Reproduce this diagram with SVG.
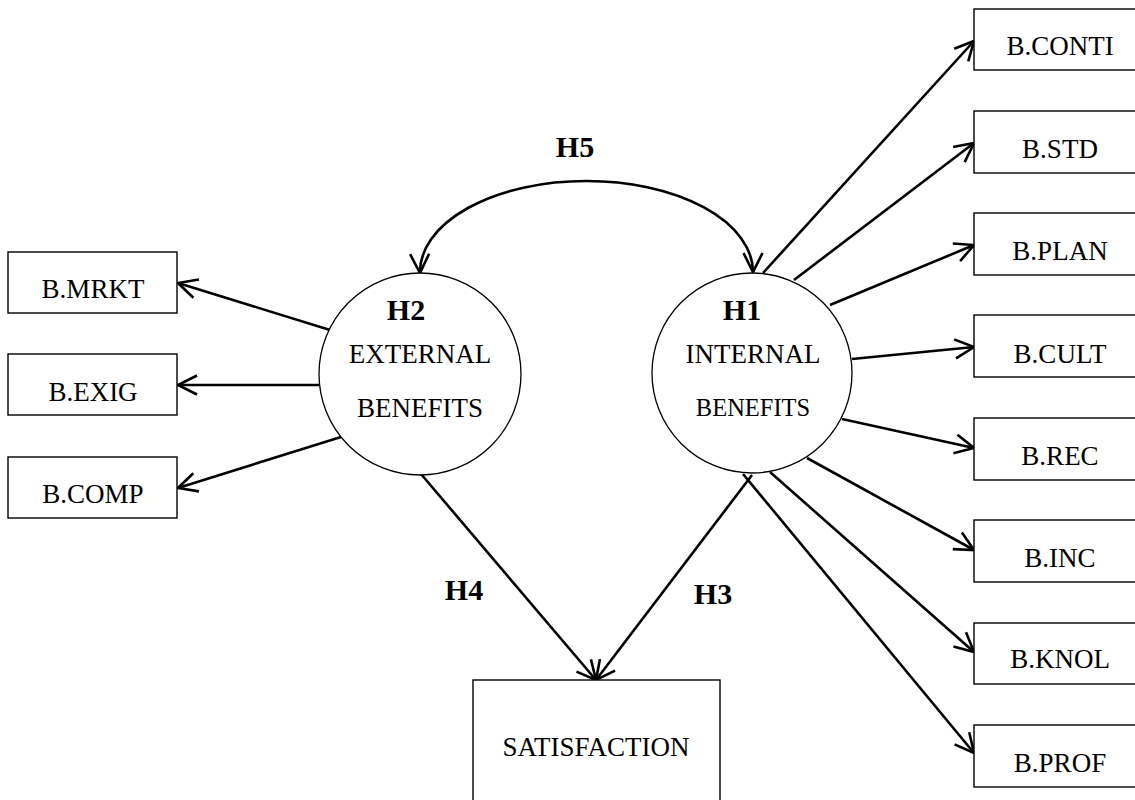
<svg xmlns="http://www.w3.org/2000/svg" width="1135" height="800" viewBox="0 0 1135 800">
<style>
.box{fill:#fff;stroke:#000;stroke-width:1.4}
.circ{fill:#fff;stroke:#000;stroke-width:1.3}
.lbl{font-family:"Liberation Serif",serif;font-size:27px;fill:#000;text-anchor:middle}
.h{font-family:"Liberation Serif",serif;font-size:30px;font-weight:bold;fill:#000;text-anchor:middle}
.con{fill:none;stroke:#000;stroke-width:2.6;marker-end:url(#arr)}
</style>
<defs>
<marker id="arr" markerUnits="userSpaceOnUse" markerWidth="26" markerHeight="26" refX="21" refY="11" orient="auto" overflow="visible">
<path d="M2,1.5 L21,11 L2,20.5" fill="none" stroke="#000" stroke-width="2.6"/>
</marker>
</defs>
<rect width="1135" height="800" fill="#fff"/>
<g id="connectors">
<path class="con" d="M330,330 L178,283"/>
<path class="con" d="M320,385 L178,385"/>
<path class="con" d="M341,437 L178,488"/>
<path class="con" d="M763,273 L974,41"/>
<path class="con" d="M794,280 L974,143"/>
<path class="con" d="M830,305 L974,245"/>
<path class="con" d="M852,359 L974,347"/>
<path class="con" d="M842,419 L974,448"/>
<path class="con" d="M807,458 L974,550"/>
<path class="con" d="M770,472 L974,652"/>
<path class="con" d="M743,474 L974,753"/>
<path class="con" d="M752,475 L596,680"/>
<path class="con" d="M421,474 L596,680"/>
<path class="con" d="M586,181 A166,91 0 0 0 420,273"/>
<path class="con" d="M586,181 A166,91 0 0 1 753,272"/>
</g>
<g id="n-external">
<circle class="circ" cx="420" cy="374" r="101"/>
<text class="h" x="406" y="320">H2</text>
<text class="lbl" x="420" y="363">EXTERNAL</text>
<text class="lbl" x="420" y="417">BENEFITS</text>
</g>
<g id="n-internal">
<circle class="circ" cx="752" cy="373" r="100"/>
<text class="h" x="742" y="320">H1</text>
<text class="lbl" x="753" y="363">INTERNAL</text>
<text class="lbl" x="753" y="416" style="font-size:24.5px">BENEFITS</text>
</g>
<g id="n-mrkt"><rect class="box" x="8" y="252" width="169" height="61"/><text class="lbl" x="93" y="298">B.MRKT</text></g>
<g id="n-exig"><rect class="box" x="8" y="354" width="169" height="61"/><text class="lbl" x="93" y="401">B.EXIG</text></g>
<g id="n-comp"><rect class="box" x="8" y="457" width="169" height="61"/><text class="lbl" x="93" y="503">B.COMP</text></g>
<g id="n-conti"><rect class="box" x="974" y="9" width="200" height="61"/><text class="lbl" x="1060" y="55">B.CONTI</text></g>
<g id="n-std"><rect class="box" x="974" y="111" width="200" height="62"/><text class="lbl" x="1060" y="158">B.STD</text></g>
<g id="n-plan"><rect class="box" x="974" y="213" width="200" height="62"/><text class="lbl" x="1060" y="260">B.PLAN</text></g>
<g id="n-cult"><rect class="box" x="974" y="315" width="200" height="62"/><text class="lbl" x="1060" y="363">B.CULT</text></g>
<g id="n-rec"><rect class="box" x="974" y="418" width="200" height="62"/><text class="lbl" x="1060" y="465">B.REC</text></g>
<g id="n-inc"><rect class="box" x="974" y="520" width="200" height="62"/><text class="lbl" x="1060" y="567">B.INC</text></g>
<g id="n-knol"><rect class="box" x="974" y="623" width="200" height="61"/><text class="lbl" x="1060" y="668">B.KNOL</text></g>
<g id="n-prof"><rect class="box" x="974" y="725" width="200" height="62"/><text class="lbl" x="1060" y="772">B.PROF</text></g>
<g id="n-satisfaction"><rect class="box" x="473" y="680" width="247" height="140"/><text class="lbl" x="596" y="756">SATISFACTION</text></g>
<g id="labels">
<text class="h" x="575" y="157">H5</text>
<text class="h" x="464" y="600">H4</text>
<text class="h" x="713" y="604">H3</text>
</g>
</svg>
